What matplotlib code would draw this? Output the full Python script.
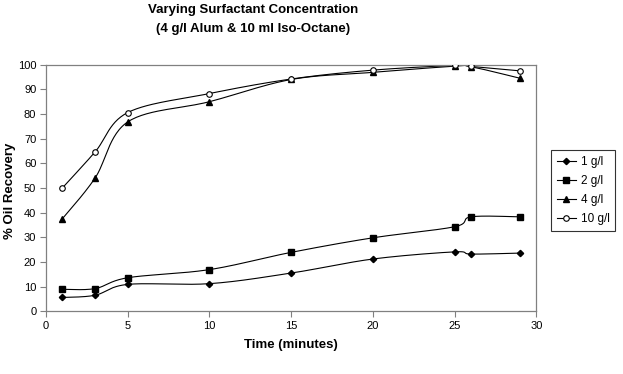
import numpy as np
import matplotlib
matplotlib.use("Agg")
import matplotlib.pyplot as plt

plt.rcParams['font.family'] = ['Liberation Sans', 'DejaVu Sans']

time_min = [1, 3, 5, 10, 15, 20, 25, 26, 29]
series_labels = ["1 g/l", "2 g/l", "4 g/l", "10 g/l"]
rec_1 = [5.6, 6.5, 10.9, 11.2, 15.5, 21.2, 24.1, 23.2, 23.6]
rec_2 = [8.9, 9.2, 13.6, 16.9, 23.9, 29.8, 34.3, 38.3, 38.3]
rec_4 = [37.5, 54.0, 76.8, 85.0, 94.0, 96.9, 99.4, 99.2, 94.5]
rec_10 = [50.0, 64.6, 80.6, 88.3, 94.2, 97.8, 99.7, 99.3, 97.5]

def smooth(x, y, n=30):
    # Catmull-Rom style smoothing (like Excel's smoothed line)
    x = np.asarray(x, float); y = np.asarray(y, float)
    px = np.concatenate([[x[0]], x, [x[-1]]])
    py = np.concatenate([[y[0]], y, [y[-1]]])
    xs, ys = [], []
    for i in range(1, len(px) - 2):
        p0 = np.array([px[i-1], py[i-1]]); p1 = np.array([px[i], py[i]])
        p2 = np.array([px[i+1], py[i+1]]); p3 = np.array([px[i+2], py[i+2]])
        c1 = p1 + (p2 - p0) / 6.0
        c2 = p2 - (p3 - p1) / 6.0
        t = np.linspace(0, 1, n)[:, None]
        b = ((1-t)**3)*p1 + 3*((1-t)**2)*t*c1 + 3*(1-t)*t**2*c2 + t**3*p2
        xs.append(b[:, 0]); ys.append(b[:, 1])
    return np.concatenate(xs), np.concatenate(ys)

fig = plt.figure(figsize=(6.23, 3.74), dpi=100)
ax = fig.add_axes([0.0738, 0.1677, 0.861 - 0.0738, 0.827 - 0.1677])

styles = [
    dict(marker='D', ms=3.2, mfc='black', mec='black'),
    dict(marker='s', ms=4.0, mfc='black', mec='black'),
    dict(marker='^', ms=4.3, mfc='black', mec='black'),
    dict(marker='o', ms=4.0, mfc='white', mec='black', mew=0.8),
]
handles = []
for vals, lab, st in zip([rec_1, rec_2, rec_4, rec_10], series_labels, styles):
    sx, sy = smooth(time_min, vals)
    ax.plot(sx, sy, color='black', lw=0.8, zorder=2)
    ax.plot(time_min, vals, ls='none', zorder=3, **st)
    h, = ax.plot([], [], color='black', lw=0.8, label=lab, **st)
    handles.append(h)

ax.set_xlim(0, 30)
ax.set_ylim(0, 100)
ax.set_xticks(range(0, 31, 5))
ax.set_yticks(range(0, 101, 10))
for s in ax.spines.values():
    s.set_color('#808080')
    s.set_linewidth(0.9)
ax.tick_params(direction='out', length=4, width=0.8, color='#808080',
               labelsize=8, pad=3)
ax.set_xlabel('Time (minutes)', fontsize=9.5, fontweight='bold')
ax.xaxis.set_label_coords(0.5, -0.112)
ax.set_ylabel('% Oil Recovery', fontsize=9.5, fontweight='bold', va='center')
ax.yaxis.set_label_coords(-0.073, 0.49)

fig.text(0.407, 0.988, 'Varying Surfactant Concentration\n(4 g/l Alum & 10 ml Iso-Octane)',
         ha='center', va='top', fontsize=9.5, fontweight='bold', linespacing=1.7)

leg = fig.legend(handles=handles, loc='upper left',
                 bbox_to_anchor=(551/623, 1 - 150/374), fontsize=8.5,
                 frameon=True, fancybox=False, edgecolor='black',
                 handlelength=1.6, handletextpad=0.4, borderpad=0.5,
                 labelspacing=0.6, borderaxespad=0)
leg.get_frame().set_linewidth(0.8)

fig.savefig('out.png', dpi=100)
